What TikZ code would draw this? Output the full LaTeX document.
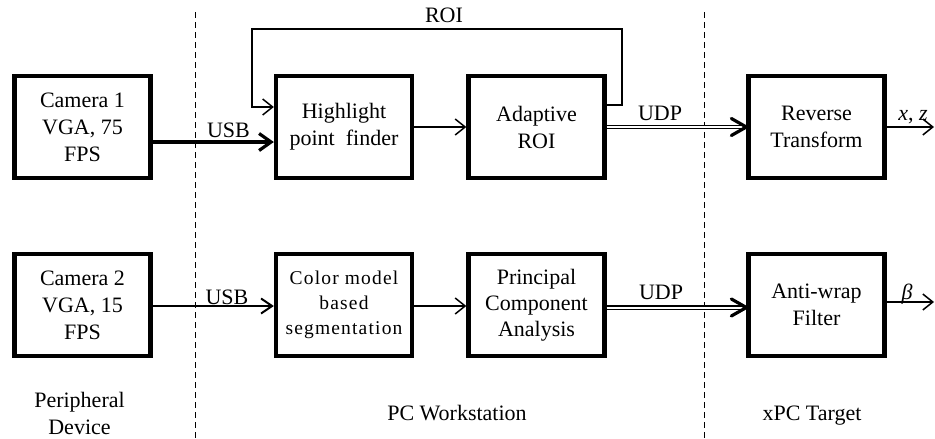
\documentclass[tikz,border=0pt]{standalone}
\usepackage{fontspec}
\setmainfont{Liberation Serif}
\usetikzlibrary{arrows.meta,calc}
\begin{document}
\begin{tikzpicture}[x=1pt,y=-1pt,
  box/.style={draw, line width=4.3pt, minimum width=136pt, minimum height=102pt,
    align=center, inner sep=0pt, font=\fontsize{22}{27}\selectfont},
  lbl/.style={anchor=base, inner sep=0pt, font=\fontsize{22}{27}\selectfont},
  thinarr/.style={line width=1.5pt, -{Straight Barb[length=10pt,width=16pt]}},
  usbthick/.style={line width=3.2pt, -{Straight Barb[length=12pt,width=17pt]}},
  usbmed/.style={line width=2pt, -{Straight Barb[length=11pt,width=15pt]}},
  udpline/.style={line width=1.1pt, double, double distance=2pt},
  udptip/.style={line width=3.2pt, line join=round, line cap=round},
  sep/.style={line width=1pt, dash pattern=on 6pt off 4pt}
]
\useasboundingbox (0,0) rectangle (935,439);

% separators
\coordinate (s1t) at (195,12); \coordinate (s1b) at (195,439);
\coordinate (s2t) at (704,12); \coordinate (s2b) at (704,439);
\draw[sep] (s1t) -- (s1b);
\draw[sep] (s2t) -- (s2b);

% top row
\node[box] (cam1) at (82.5,127) {Camera 1\\VGA, 75\\FPS};
\node[box] (hl)   at (344,127) {Highlight\\point\ \ finder};
\node[box] (ad)   at (536.5,127) {Adaptive\\ROI};
\node[box] (rev)  at (816.5,127) {Reverse\\Transform};

% bottom row
\node[box] (cam2) at (82.5,305) {Camera 2\\VGA, 15\\FPS};
\node[box, font=\fontsize{19.5}{25}\selectfont\addfontfeature{LetterSpace=6}] (cs) at (344,305) {Color model\\based\\segmentation};
\node[box, font=\fontsize{22}{26}\selectfont] (pca) at (536.5,305) {Principal\\Component\\Analysis};
\node[box] (aw)   at (816.5,305) {Anti-wrap\\Filter};

\coordinate (out1) at (934,127);
\coordinate (out2) at (934,302);

% top connectors
\draw[usbthick] ([yshift=-15pt]cam1.east) -- ([yshift=-15pt]hl.west);
\draw[thinarr] (hl.east) -- (ad.west);
\draw[udpline] (ad.east) -- ([xshift=-3pt]rev.west);
\draw[udptip] ([shift={(-15,-8.5)}]rev.west) -- (rev.west) -- ([shift={(-15,8.5)}]rev.west);
\draw[thinarr] (rev.east) -- (out1);
\coordinate (fbR) at (622,29);
\coordinate (fbL) at (252,29);
\draw[thinarr] ([yshift=22pt]ad.east) -| (fbR) -| (fbL) |- ([yshift=20pt]hl.west);

% bottom connectors
\draw[usbmed] ([yshift=-1pt]cam2.east) -- ([yshift=-1pt]cs.west);
\draw[thinarr] ([yshift=-1pt]cs.east) -- ([yshift=-1pt]pca.west);
\draw[udpline] ([yshift=-2.5pt]pca.east) -- ([yshift=-2.5pt,xshift=-3pt]aw.west);
\draw[udptip] ([shift={(-15,-8.5)}]$(aw.west)+(0,2.5)$) -- ($(aw.west)+(0,2.5)$) -- ([shift={(-15,8.5)}]$(aw.west)+(0,2.5)$);
\draw[thinarr] ([yshift=3pt]aw.east) -- (out2);

% labels
\node[lbl] (roi) at (444,23) {ROI};
\node[lbl] (usb1) at (228.5,137) {USB};
\node[lbl] (usb2) at (227,304) {USB};
\node[lbl] (udp1) at (660,120) {UDP};
\node[lbl] (udp2) at (661,299) {UDP};
\node[lbl] (xz) at (913,120) {\textit{x}, \textit{z}};
\node[lbl] (beta) at (907,299) {\textit{β}};
\node[lbl, align=center] (pd) at (79.5,434) {Peripheral\\Device};
\node[lbl] (pcw) at (457,420) {PC Workstation};
\node[lbl] (xpc) at (812,420) {xPC Target};
\end{tikzpicture}
\end{document}
